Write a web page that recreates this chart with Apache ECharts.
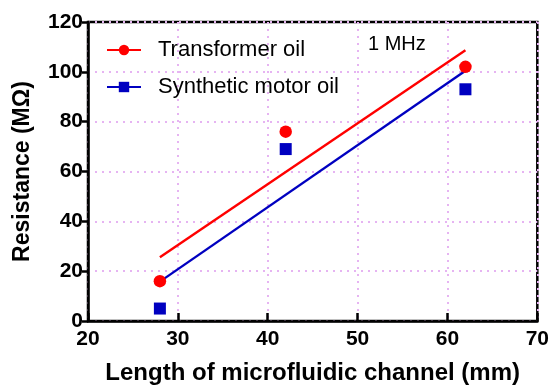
<!DOCTYPE html>
<html><head><meta charset="utf-8">
<script src="https://cdn.jsdelivr.net/npm/echarts@6/dist/echarts.min.js"></script>
<style>html,body{margin:0;padding:0;background:#fff}#c{width:552px;height:390px}</style>
</head><body><div id="c"></div>
<script>
var lengths = [28, 42, 62];
var transformerOil = [16, 76, 102];
var syntheticOil = [5, 69, 93];
var transformerFit = [[28, 25.6], [62, 108.7]];
var syntheticFit = [[28, 15.8], [62, 100.4]];
var xTicks = [20, 30, 40, 50, 60, 70];
var yTicks = [0, 20, 40, 60, 80, 100, 120];

var RED = '#ff0000', BLUE = '#0000c0';
var font = 'Liberation Sans, Arial, sans-serif';
var chart = echarts.init(document.getElementById('c'));
function pts(xs, ys){ return xs.map(function(x,i){return [x, ys[i]];}); }
chart.setOption({
  animation: false,
  grid: {left: 88, right: 13, top: 22, bottom: 67, show: true, borderColor: '#000', borderWidth: 2.5, backgroundColor: 'transparent'},
  xAxis: {
    type: 'value', min: xTicks[0], max: xTicks[xTicks.length-1], interval: 10,
    name: 'Length of microfluidic channel (mm)', nameLocation: 'middle', nameGap: 40,
    nameTextStyle: {fontFamily: font, fontWeight: 'bold', fontSize: 24, color: '#000'},
    axisLine: {show: true, lineStyle: {color: '#000', width: 2.5}},
    axisTick: {show: true, inside: true, length: 8, lineStyle: {color: '#000', width: 2.5}},
    axisLabel: {fontFamily: font, fontWeight: 'bold', fontSize: 21, color: '#000', margin: 8},
    splitLine: {show: true, lineStyle: {color: '#e6b4f2', type: [2, 5], width: 2}}
  },
  yAxis: {
    type: 'value', min: yTicks[0], max: yTicks[yTicks.length-1], interval: 20,
    name: 'Resistance (M\u03A9)', nameLocation: 'middle', nameGap: 54, nameRotate: 90,
    nameTextStyle: {fontFamily: font, fontWeight: 'bold', fontSize: 23, color: '#000'},
    axisLine: {show: true, lineStyle: {color: '#000', width: 2.5}},
    axisTick: {show: true, inside: false, length: 6, lineStyle: {color: '#000', width: 2.5}},
    axisLabel: {fontFamily: font, fontWeight: 'bold', fontSize: 21, color: '#000', margin: 5},
    splitLine: {show: true, lineStyle: {color: '#e6b4f2', type: [2, 5], width: 2}}
  },
  legend: {
    left: 101, top: 34, orient: 'vertical', itemGap: 15, itemWidth: 34, itemHeight: 13,
    textStyle: {fontFamily: font, fontSize: 22, color: '#000', padding: [0,0,0,12]},
    data: ['Transformer oil', 'Synthetic motor oil']
  },
  graphic: [{type: 'text', left: 368, top: 34, style: {text: '1 MHz', font: '20px ' + font, fill: '#000'}}],
  series: [
    {name: 'Transformer oil', type: 'line', data: transformerFit, symbol: 'circle', symbolSize: 13, showSymbol: false,
     lineStyle: {color: RED, width: 2.4}, itemStyle: {color: RED, opacity: 1}, z: 3},
    {name: 'Synthetic motor oil', type: 'line', data: syntheticFit, symbol: 'rect', symbolSize: 12, showSymbol: false,
     lineStyle: {color: BLUE, width: 2.4}, itemStyle: {color: BLUE, opacity: 1}, z: 3},
    {type: 'scatter', data: pts(lengths, transformerOil), symbol: 'circle', symbolSize: 12.5, itemStyle: {color: RED, opacity: 1}, z: 4},
    {type: 'scatter', data: pts(lengths, syntheticOil), symbol: 'rect', symbolSize: 12, itemStyle: {color: BLUE, opacity: 1}, z: 4}
  ]
});
</script></body></html>
